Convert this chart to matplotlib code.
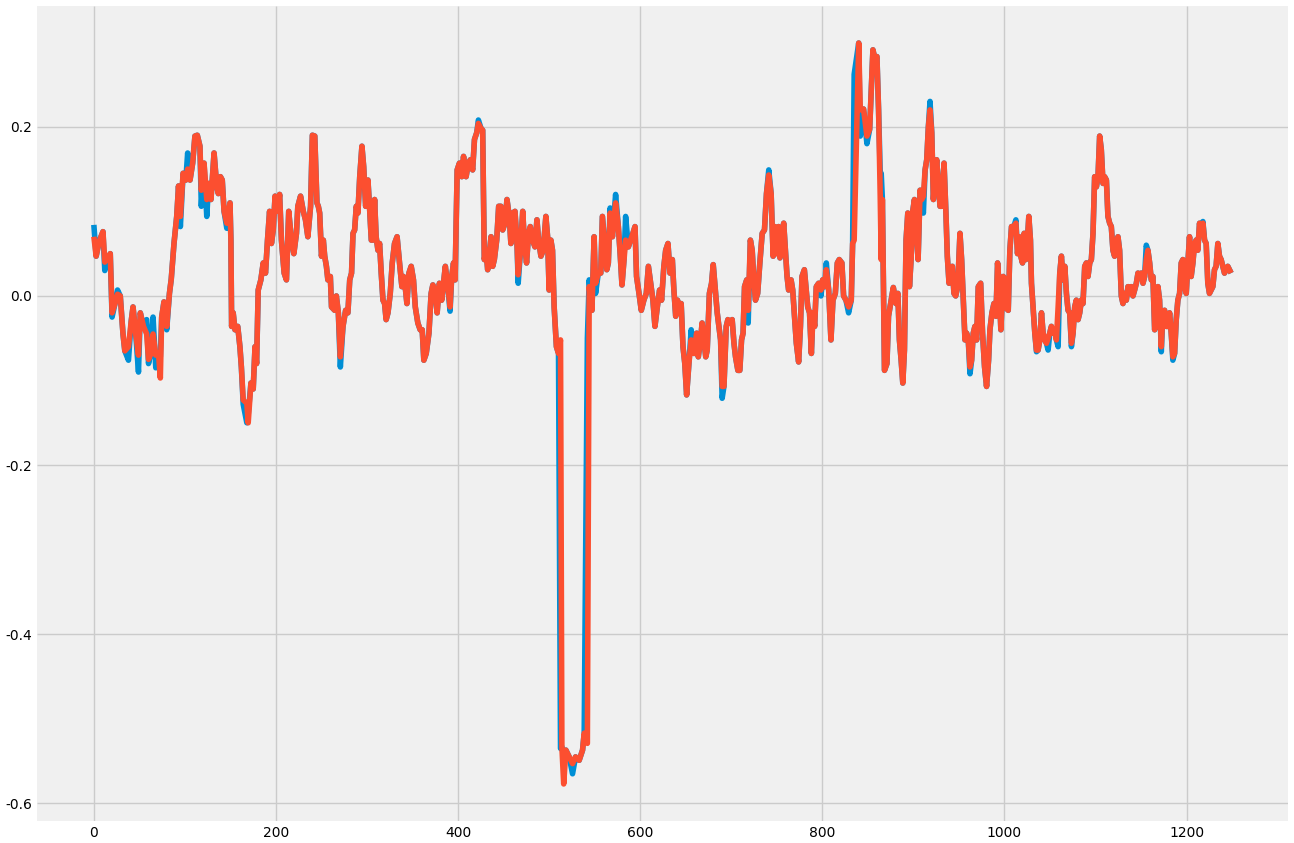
import numpy as np
import matplotlib
matplotlib.use("Agg")
import matplotlib.pyplot as plt

# ---- data ----
x_vals = [
    0, 2.5, 6, 10, 12, 18, 20, 23, 26, 29,
    32, 34, 38, 41, 43, 46, 49, 51, 54.5, 58,
    60, 62, 65, 68, 71, 73, 74.5, 77, 80, 83,
    85, 88, 91, 93, 95, 98, 101, 103, 105.6, 108.5,
    111, 113.6, 116.5, 118, 121, 124, 126, 128.6, 132, 135,
    136.7, 139, 141, 143, 146, 149.5, 150.5, 151.3, 153, 155,
    158, 160.4, 162, 164, 168, 169.5, 172.5, 175, 177, 178.7,
    180.5, 183.4, 186, 188.5, 190.7, 193, 195, 197, 199, 201.7,
    204, 206, 209, 211.5, 214, 217, 219.6, 222.5, 224, 227,
    230, 232.4, 235, 238, 240, 242.6, 245, 246.5, 248, 250,
    252, 253.5, 255.4, 257, 259.7, 261, 264.5, 266.3, 268.5, 270.7,
    273.6, 276.5, 279, 281, 283, 284.6, 286.4, 288.2, 290, 292,
    294.4, 296.3, 298.5, 301, 303, 304.7, 306.5, 308.3, 310, 312,
    313.8, 315.6, 317.5, 319.3, 321, 323, 325.5, 327.7, 330.2, 333,
    335.7, 338.3, 340, 342.3, 343.8, 346, 348.5, 351, 353, 355.8,
    358.4, 360.6, 362.4, 365, 368, 370.4, 372.3, 374.5, 377, 379.5,
    382, 384, 386, 388.7, 391.2, 393, 395, 396.7, 399, 401.5,
    404, 406, 408.8, 411.3, 413.5, 416, 418, 420.5, 422.3, 425.2,
    427, 428.8, 430.7, 432.5, 434.3, 436.2, 438, 439.8, 442.4, 444.6,
    447, 449, 451.5, 453.7, 456.2, 458, 460, 462.5, 464.7, 466,
    468.3, 471, 472.7, 475.2, 477.4, 479.3, 481.8, 484.4, 486.6, 488.4,
    491, 493.5, 496.4, 498.3, 500, 501.9, 503.7, 505.5, 508, 510.3,
    512.5, 514, 516, 518.4, 522, 525.7, 529, 533, 536.7, 538.5,
    542, 544, 547, 549.4, 551, 554, 556.7, 558.5, 561, 563.3,
    565, 567, 569.5, 573, 576, 578, 580, 582.2, 584, 587,
    589.5, 592, 594.3, 596, 598.7, 601.2, 604, 606.7, 609, 611.5,
    614, 616.2, 618.8, 621.3, 623.5, 626, 628, 630.5, 632.7, 635.3,
    637, 639, 641, 642.6, 645, 647, 649, 651, 653.5, 656,
    659, 662, 663.8, 666.3, 668, 670, 672, 673.6, 676, 678.4,
    680.2, 682.8, 684.6, 686.4, 688.3, 690, 692, 694.5, 696.3, 699,
    701, 703, 704.7, 707.3, 709.4, 711.3, 713, 714.6, 717, 718.6,
    721, 723, 724.8, 726.6, 729, 731.4, 734, 736.5, 738.7, 741.2,
    743.8, 746, 747.8, 749.6, 752, 753.5, 755.5, 757.6, 759.5, 761.3,
    763, 765.7, 767.5, 769.7, 771.5, 774, 776, 777.7, 780.3, 782,
    784, 786, 788, 789.8, 791.6, 793.4, 796, 798.5, 800.4, 802.6,
    804.4, 807, 809.5, 811.7, 814.3, 816.5, 818.6, 821.5, 823.4, 826,
    828.9, 831.8, 833.3, 835, 840, 841.7, 845.3, 849, 852, 855.6,
    858, 860, 861.8, 863.6, 864.7, 866, 868.3, 871, 872.7, 875.6,
    878, 881, 883, 884.7, 886.6, 888.4, 890.2, 892, 893.9, 895.7,
    897.5, 899.3, 901.2, 903, 905.2, 907.4, 909.2, 911, 912.9, 914.7,
    916.5, 918.3, 920.2, 922, 923.8, 925.6, 927.5, 929.3, 931.1, 933.7,
    935.9, 937.3, 939.2, 941, 942.8, 944.6, 946.5, 948.7, 951.2, 953,
    954.9, 956.7, 958.5, 960.3, 962.2, 964, 965.8, 967.6, 969.5, 971.3,
    973.9, 976, 978.2, 980.4, 982.6, 984.1, 986.3, 988.5, 990.7, 992.5,
    994.3, 996.1, 998.7, 1000.5, 1002.5, 1004.2, 1006, 1007.8, 1010.4, 1012.6,
    1014.4, 1016.2, 1018, 1019.9, 1021.7, 1023.5, 1025.3, 1026.8, 1028.6, 1029.7,
    1031.5, 1033.4, 1035.2, 1037, 1038.9, 1040.7, 1042.5, 1044.3, 1046.2, 1048,
    1049.8, 1051.6, 1053.5, 1055.3, 1057.1, 1059, 1060.8, 1062.6, 1064.4, 1066.3,
    1068.1, 1069.9, 1071.7, 1073.6, 1075.4, 1077.2, 1079, 1080.9, 1082.7, 1084.5,
    1086.3, 1088.2, 1090, 1091.8, 1093.7, 1095.5, 1097.3, 1099.1, 1101, 1102.8,
    1104.6, 1106.4, 1108.3, 1110, 1112, 1113.7, 1115.6, 1117.4, 1119.2, 1121,
    1122.9, 1124.7, 1126.5, 1128.4, 1130.2, 1132, 1133.9, 1135.7, 1137.6, 1139.4,
    1141.2, 1143, 1144.9, 1146.7, 1148.5, 1150.3, 1152.2, 1154, 1155.8, 1157.6,
    1159.5, 1161.3, 1163.1, 1165, 1166.8, 1168.6, 1170.4, 1172.3, 1174.1, 1175.9,
    1177.7, 1179.6, 1181.4, 1183.2, 1185, 1186.9, 1188.7, 1190.5, 1192.4, 1194.2,
    1196, 1197.8, 1199.7, 1201.5, 1203.3, 1205.1, 1207, 1208.8, 1210.6, 1212.4,
    1214.3, 1216.1, 1218, 1219.8, 1221.6, 1223.4, 1225.2, 1227.1, 1228.9, 1230.7,
    1232.5, 1234.4, 1236.2, 1238, 1239.8, 1241.7, 1243.5, 1245.3, 1247.2, 1249,
]

predicted = [
    0.070, 0.047, 0.065, 0.076, 0.040, 0.050, -0.020, -0.010, 0.002, 0.000,
    -0.045, -0.065, -0.060, -0.030, -0.013, -0.045, -0.070, -0.020, -0.036, -0.045,
    -0.075, -0.070, -0.045, -0.070, -0.068, -0.097, -0.025, -0.007, -0.036, 0.003,
    0.020, 0.062, 0.094, 0.130, 0.094, 0.145, 0.137, 0.150, 0.137, 0.157,
    0.189, 0.190, 0.177, 0.125, 0.157, 0.114, 0.133, 0.114, 0.169, 0.129,
    0.121, 0.141, 0.137, 0.100, 0.086, 0.110, 0.066, -0.036, -0.020, -0.040,
    -0.036, -0.060, -0.084, -0.123, -0.127, -0.150, -0.103, -0.110, -0.060, -0.080,
    0.007, 0.019, 0.039, 0.027, 0.066, 0.100, 0.062, 0.078, 0.118, 0.100,
    0.120, 0.066, 0.027, 0.019, 0.100, 0.066, 0.050, 0.074, 0.106, 0.118,
    0.100, 0.090, 0.070, 0.106, 0.190, 0.189, 0.110, 0.106, 0.098, 0.047,
    0.066, 0.047, 0.035, 0.019, 0.023, -0.013, -0.017, 0.000, -0.020, -0.072,
    -0.036, -0.017, -0.020, 0.019, 0.027, 0.074, 0.078, 0.106, 0.098, 0.141,
    0.177, 0.153, 0.106, 0.137, 0.100, 0.066, 0.066, 0.114, 0.070, 0.054,
    0.062, 0.027, -0.005, -0.009, -0.028, -0.020, 0.003, 0.039, 0.062, 0.070,
    0.039, 0.011, 0.023, 0.007, -0.009, 0.027, 0.035, 0.019, -0.013, -0.032,
    -0.040, -0.040, -0.076, -0.068, -0.044, 0.003, 0.013, 0.007, -0.020, 0.015,
    -0.005, 0.015, 0.035, 0.011, -0.013, 0.023, 0.039, 0.019, 0.149, 0.157,
    0.141, 0.165, 0.141, 0.157, 0.161, 0.149, 0.185, 0.193, 0.204, 0.198,
    0.196, 0.043, 0.054, 0.031, 0.050, 0.070, 0.035, 0.043, 0.066, 0.106,
    0.106, 0.078, 0.086, 0.114, 0.094, 0.062, 0.098, 0.100, 0.062, 0.025,
    0.050, 0.100, 0.066, 0.039, 0.074, 0.082, 0.066, 0.058, 0.090, 0.066,
    0.047, 0.054, 0.094, 0.070, 0.007, 0.066, 0.054, -0.013, -0.060, -0.068,
    -0.052, -0.533, -0.577, -0.537, -0.545, -0.553, -0.545, -0.549, -0.537, -0.517,
    -0.529, 0.011, -0.017, 0.070, 0.015, 0.027, 0.027, 0.094, 0.062, 0.031,
    0.039, 0.098, 0.070, 0.110, 0.082, 0.050, 0.013, 0.043, 0.066, 0.058,
    0.066, 0.074, 0.082, 0.023, 0.003, -0.017, -0.005, 0.003, 0.035, 0.015,
    -0.005, -0.036, -0.013, 0.007, -0.005, 0.035, 0.054, 0.062, 0.027, 0.043,
    0.007, -0.024, -0.005, -0.020, -0.009, -0.060, -0.080, -0.117, -0.080, -0.052,
    -0.068, -0.044, -0.072, -0.052, -0.032, -0.052, -0.072, -0.064, 0.003, 0.015,
    0.037, 0.003, -0.020, -0.036, -0.052, -0.107, -0.107, -0.036, -0.028, -0.032,
    -0.028, -0.056, -0.072, -0.088, -0.088, -0.052, -0.044, 0.011, 0.019, -0.017,
    0.066, 0.054, 0.019, -0.005, 0.003, 0.039, 0.074, 0.078, 0.121, 0.143,
    0.121, 0.047, 0.082, 0.050, 0.082, 0.045, 0.066, 0.086, 0.054, 0.023,
    0.007, 0.019, 0.007, -0.028, -0.056, -0.078, -0.036, 0.023, 0.031, 0.011,
    -0.013, -0.020, -0.068, -0.020, -0.036, 0.011, 0.015, 0.007, 0.019, 0.011,
    0.031, 0.007, -0.052, -0.005, 0.003, 0.039, 0.043, 0.039, 0.000, -0.005,
    -0.013, -0.005, 0.062, 0.066, 0.299, 0.220, 0.221, 0.189, 0.197, 0.291,
    0.279, 0.283, 0.220, 0.118, 0.043, 0.114, -0.088, -0.080, -0.024, -0.005,
    0.010, -0.009, 0.003, -0.052, -0.076, -0.103, -0.064, 0.066, 0.098, 0.011,
    0.043, 0.100, 0.114, 0.082, 0.043, 0.125, 0.114, 0.118, 0.149, 0.161,
    0.200, 0.220, 0.193, 0.114, 0.141, 0.161, 0.133, 0.106, 0.106, 0.157,
    0.094, 0.047, 0.015, 0.027, 0.035, 0.003, 0.000, 0.011, 0.074, 0.043,
    -0.005, -0.052, -0.044, -0.052, -0.084, -0.076, -0.044, -0.036, -0.052, 0.011,
    0.015, -0.044, -0.084, -0.107, -0.076, -0.040, -0.020, -0.009, -0.024, 0.039,
    0.011, -0.040, 0.023, 0.020, -0.015, -0.017, 0.054, 0.082, 0.082, 0.086,
    0.050, 0.070, 0.047, 0.039, 0.074, 0.043, 0.066, 0.094, 0.066, 0.015,
    -0.013, -0.044, -0.064, -0.064, -0.052, -0.020, -0.044, -0.052, -0.056, -0.050,
    -0.044, -0.036, -0.044, -0.040, -0.052, -0.013, 0.027, 0.047, 0.019, 0.035,
    0.003, -0.017, -0.020, -0.056, -0.044, -0.013, -0.005, -0.028, -0.020, -0.005,
    -0.009, 0.035, 0.039, 0.023, 0.039, 0.043, 0.074, 0.141, 0.129, 0.141,
    0.189, 0.173, 0.133, 0.141, 0.137, 0.094, 0.086, 0.082, 0.054, 0.047,
    0.062, 0.070, 0.054, 0.000, -0.009, 0.003, -0.005, 0.011, 0.003, 0.011,
    0.000, 0.007, 0.015, 0.027, 0.023, 0.027, 0.015, 0.023, 0.043, 0.054,
    0.039, 0.019, 0.023, -0.040, -0.024, 0.011, -0.005, -0.060, -0.020, -0.017,
    -0.036, -0.036, -0.020, -0.044, -0.072, -0.068, -0.028, -0.005, 0.003, 0.039,
    0.043, 0.011, 0.003, 0.039, 0.070, 0.023, 0.039, 0.062, 0.066, 0.054,
    0.086, 0.074, 0.086, 0.066, 0.062, 0.015, 0.003, 0.007, 0.011, 0.031,
    0.035, 0.062, 0.047, 0.043, 0.035, 0.027, 0.031, 0.035, 0.031, 0.027,
]

# actual (blue) series: same as the predicted line except where it visibly differs
actual_diff_x = [
    0, 12, 20, 26, 38, 49, 58, 60, 65, 68,
    73, 80, 95, 103, 118, 124, 146, 164, 168, 169.5,
    270.7, 391.2, 422.3, 466, 512.5, 516, 525.7, 542, 544, 551,
    567, 573, 584, 656, 690, 718.6, 741.2, 798.5, 804.4, 828.9,
    835, 841.7, 849, 863.6, 864.7, 911, 918.3, 962.2, 1012.6, 1035.2,
    1048, 1059, 1073.6, 1155.8, 1172.3, 1185, 1218,
]
actual_diff_y = [
    0.084, 0.030, -0.025, 0.007, -0.076, -0.090, -0.028, -0.080, -0.025, -0.085,
    -0.072, -0.040, 0.082, 0.169, 0.106, 0.094, 0.080, -0.128, -0.150, -0.140,
    -0.084, -0.018, 0.208, 0.015, -0.535, -0.545, -0.565, -0.050, 0.019, 0.003,
    0.104, 0.120, 0.094, -0.040, -0.121, -0.032, 0.149, 0.000, 0.039, -0.020,
    0.262, 0.189, 0.180, 0.145, 0.145, 0.098, 0.230, -0.092, 0.090, -0.066,
    -0.064, -0.060, -0.060, 0.060, -0.066, -0.076, 0.088,
]

x_ticks = [0, 200, 400, 600, 800, 1000, 1200]
y_ticks = [-0.6, -0.4, -0.2, 0.0, 0.2]

# ---- build series ----
x = np.array(x_vals, dtype=float)
pred = np.array(predicted, dtype=float)
assert len(x) == len(pred)
actual = pred.copy()
for dx, dy in zip(actual_diff_x, actual_diff_y):
    idx = np.where(np.isclose(x, dx))[0]
    if len(idx):
        actual[idx[0]] = dy

# ---- style ----
plt.style.use('fivethirtyeight')
plt.rcParams['font.family'] = ['DejaVu Sans']
plt.rcParams['axes.unicode_minus'] = False

fig = plt.figure(figsize=(12.94, 8.43), dpi=100, facecolor='white')
ax = fig.add_axes([37 / 1294, 22 / 843, 1251 / 1294, 815 / 843])
ax.set_facecolor('#f0f0f0')

ax.plot(x, actual, color='#008fd5', lw=4, solid_capstyle='butt')
ax.plot(x, pred, color='#fc4f30', lw=4, solid_capstyle='butt')

ax.set_xticks(x_ticks)
ax.set_yticks(y_ticks)
ax.tick_params(labelsize=10, colors='black', length=0)
ax.grid(True, color='#cbcbcb', lw=1)
for s in ax.spines.values():
    s.set_visible(False)

fig.savefig('out.png', dpi=100, facecolor='white')
